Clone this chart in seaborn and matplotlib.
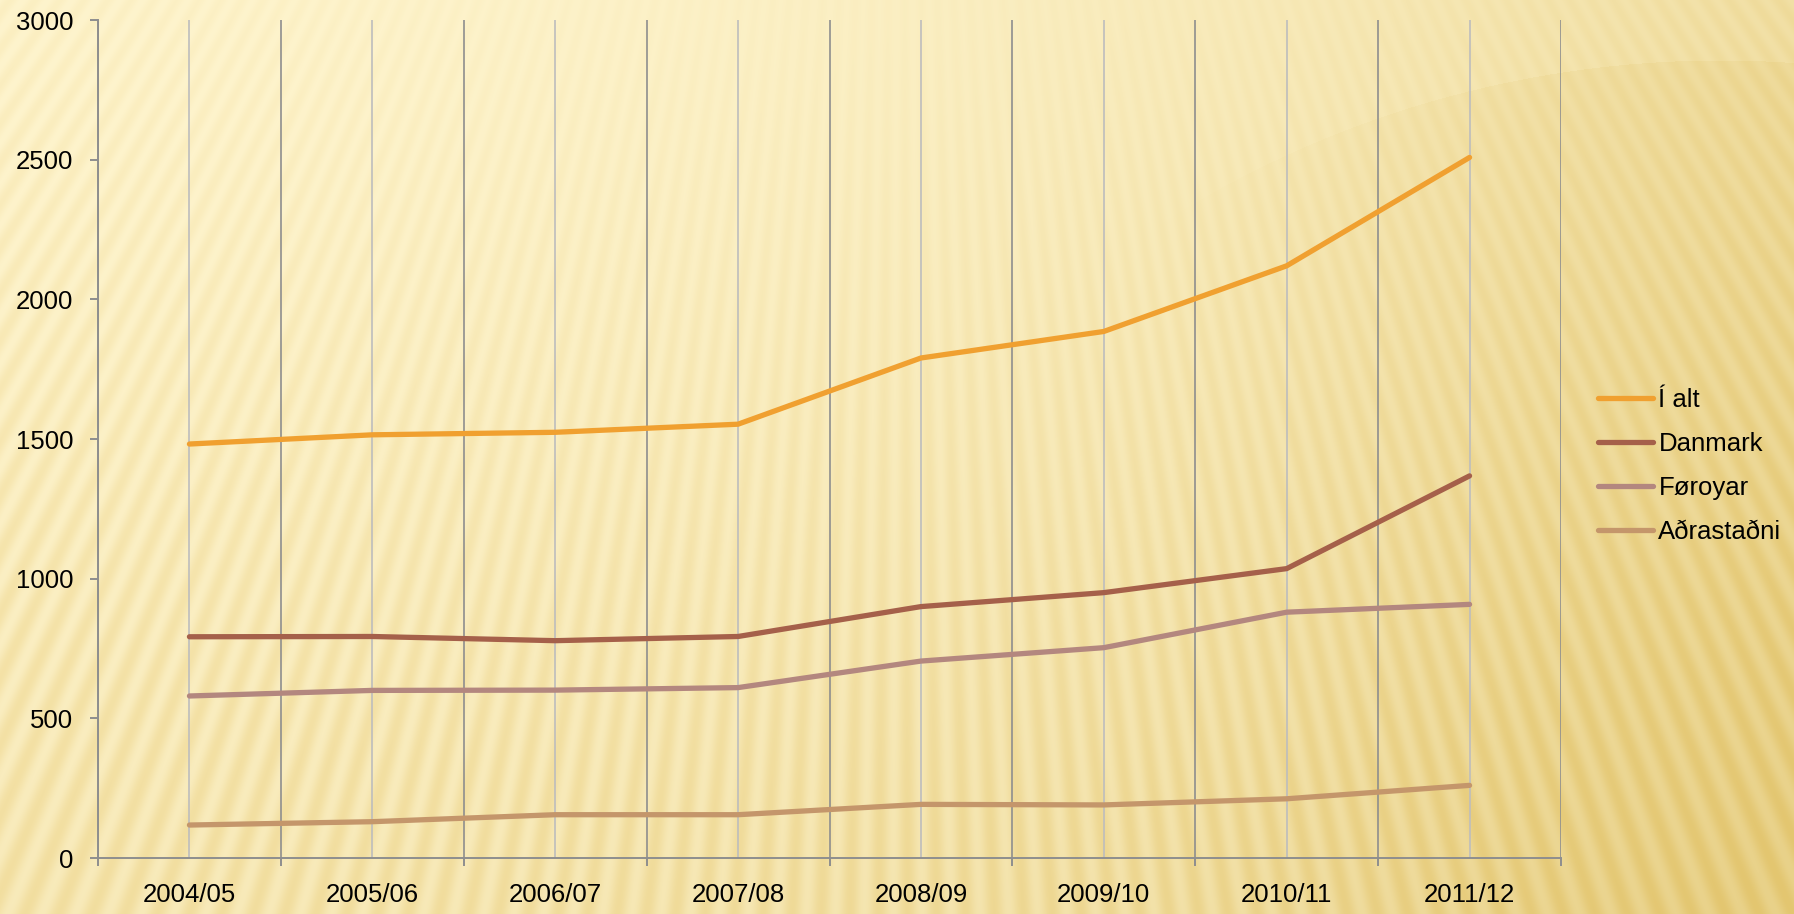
import matplotlib
matplotlib.use('Agg')
import matplotlib.pyplot as plt
import numpy as np
import pandas as pd
import seaborn as sns

# data
seasons = ['2004/05', '2005/06', '2006/07', '2007/08', '2008/09', '2009/10', '2010/11', '2011/12']
i_alt = [1482, 1515, 1524, 1553, 1790, 1885, 2120, 2508]
danmark = [792, 793, 778, 793, 900, 950, 1036, 1368]
foroyar = [580, 600, 601, 610, 705, 753, 880, 908]
adrastadni = [118, 130, 155, 155, 192, 190, 212, 260]
series_names = ['Í alt', 'Danmark', 'Føroyar', 'Aðrastaðni']
line_colors = ['#F0A030', '#A5604A', '#B3877F', '#C4966B']


def make_background(W, H):
	''' golden gradient with faint rays, like the slide theme'''
	yy, xx = np.mgrid[0:H, 0:W].astype(float)
	cx, cy = 900.0, -1200.0
	ang = np.arctan2(xx - cx, yy - cy)
	r = np.hypot(xx - cx, yy - cy)
	stripe = 0.5 + 0.5 * np.sin(ang * 460)
	strength = 0.15 + 0.85 * np.clip((r - 1230) / 800, 0, 1)

	t = np.clip(0.7 * (xx / W) ** 2 + 0.35 * (yy / H) ** 1.5, 0, 1)
	light = np.array([254, 244, 205]) / 255
	dark = np.array([236, 215, 148]) / 255
	base = light * (1 - t[..., None]) + dark * t[..., None]

	# big soft disc in the upper right, only noticeable near the corner
	disc = (np.hypot(xx - 1720, yy - 1100) < 1040) * np.clip((xx - 1150) / 400, 0, 1)
	base = base - disc[..., None] * np.array([3, 5, 10]) / 255

	amp = np.array([6, 12, 26]) / 255
	img = base - (stripe * strength)[..., None] * amp
	return np.clip(img, 0, 1)


def main():
	sns.set_style('white')
	plt.rcParams['font.family'] = ['Liberation Sans', 'DejaVu Sans']
	plt.rcParams['lines.solid_capstyle'] = 'round'
	plt.rcParams['text.color'] = 'black'

	df = pd.DataFrame({
		'season': seasons * 4,
		'value': i_alt + danmark + foroyar + adrastadni,
		'series': [s for s in series_names for _ in seasons],
	})

	W, H = 1794, 914
	fig = plt.figure(figsize=(W / 100, H / 100), dpi=100)

	bg = fig.add_axes([0, 0, 1, 1])
	bg.imshow(make_background(W, H), aspect='auto', interpolation='bilinear')
	bg.axis('off')

	ax = fig.add_axes([98 / W, 1 - 858 / H, (1561 - 98) / W, (858 - 20) / H])
	ax.set_zorder(2)
	ax.patch.set_alpha(0)

	sns.lineplot(data=df, x='season', y='value', hue='series', palette=line_colors,
	             hue_order=series_names, linewidth=3.8, sort=False, ax=ax)

	n = len(seasons)
	ax.set_xlim(-0.5, n - 0.5)
	ax.set_ylim(0, 3000)
	ax.set_yticks(np.arange(0, 3001, 500))

	# boundaries as major ticks (dark grid), category centres as minor (light grid, labels)
	ax.set_xticks(np.arange(n + 1) - 0.5)
	ax.set_xticklabels([])
	ax.set_xticks(np.arange(n), minor=True)
	ax.set_xticklabels(seasons, minor=True)
	ax.grid(True, axis='x', which='major', color='#8E8E8E', linewidth=1.2)
	ax.grid(True, axis='x', which='minor', color='#BDBDBD', linewidth=1.2)
	ax.grid(False, axis='y')

	fs = 18.5
	ax.tick_params(axis='x', which='major', direction='out', length=6, width=1.4, color='#8E8E8E', bottom=True)
	ax.tick_params(axis='x', which='minor', length=0, pad=18, labelsize=fs, labelcolor='black')
	ax.tick_params(axis='y', direction='out', length=6, width=1.4, color='#8E8E8E', left=True, pad=12,
	               labelsize=fs, labelcolor='black')

	for side in ['top', 'right']:
		ax.spines[side].set_visible(False)
	for side in ['left', 'bottom']:
		ax.spines[side].set_color('#8E8E8E')
		ax.spines[side].set_linewidth(1.4)

	ax.set_xlabel('')
	ax.set_ylabel('')

	handles, labels = ax.get_legend_handles_labels()
	leg = ax.legend(handles, labels, loc='center left', bbox_to_anchor=(1598 / W, 1 - 466 / H),
	                bbox_transform=fig.transFigure, frameon=False, fontsize=fs,
	                handlelength=2.15, handletextpad=0.2, labelspacing=0.78, borderpad=0, borderaxespad=0)
	for txt in leg.get_texts():
		txt.set_color('black')

	plt.savefig('out.png', dpi=100)


if __name__ == '__main__':
	main()
